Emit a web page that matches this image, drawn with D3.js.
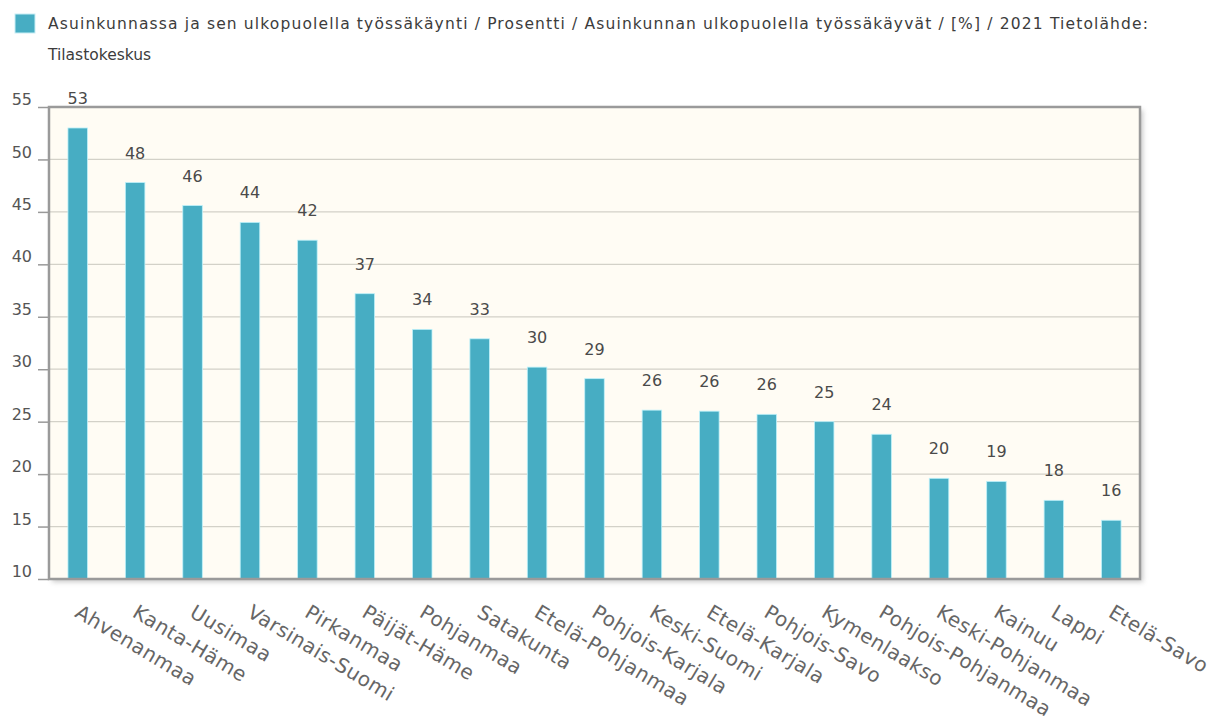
<!DOCTYPE html>
<html>
<head>
<meta charset="utf-8">
<script src="https://cdn.jsdelivr.net/npm/d3@7"></script>
<style>
  body { margin:0; background:#fff; }
  svg text { font-family:'DejaVu Sans', sans-serif; }
</style>
</head>
<body>
<div id="chart"></div>
<script>
// maakunnat ja arvot (%)
var maakunnat = ["Ahvenanmaa","Kanta-Häme","Uusimaa","Varsinais-Suomi","Pirkanmaa","Päijät-Häme",
  "Pohjanmaa","Satakunta","Etelä-Pohjanmaa","Pohjois-Karjala","Keski-Suomi","Etelä-Karjala",
  "Pohjois-Savo","Kymenlaakso","Pohjois-Pohjanmaa","Keski-Pohjanmaa","Kainuu","Lappi","Etelä-Savo"];
var arvot = [53.0,47.8,45.6,44.0,42.3,37.2,33.8,32.9,30.2,29.1,26.1,26.0,25.7,25.0,23.8,19.6,19.3,17.5,15.6];
var yTicks = [10,15,20,25,30,35,40,45,50,55];
var otsikko = ["Asuinkunnassa ja sen ulkopuolella työssäkäynti / Prosentti / Asuinkunnan ulkopuolella työssäkäyvät / [%] / 2021 Tietolähde:",
  "Tilastokeskus"];

var W = 1230, H = 721;
var m = {left:49, top:107, right:1140, bottom:579};
var barColor = "#47adc3";

var svg = d3.select("#chart").append("svg")
  .attr("width",W).attr("height",H);

var defs = svg.append("defs");
defs.append("filter").attr("id","varjo")
  .attr("x","-5%").attr("y","-5%").attr("width","110%").attr("height","115%")
  .append("feDropShadow")
    .attr("dx",3).attr("dy",3).attr("stdDeviation",2.5)
    .attr("flood-color","#888").attr("flood-opacity",0.45);

// legenda
svg.append("rect")
  .attr("x",15).attr("y",14).attr("width",20).attr("height",19)
  .attr("fill",barColor).attr("stroke","#c8eef5").attr("stroke-width",1);

svg.selectAll("text.otsikko").data(otsikko).enter()
  .append("text").attr("class","otsikko")
  .attr("x",48)
  .attr("y",function(d,i) { return 29 + i*31; })
  .attr("font-size",15.5)
  .attr("fill","#3c3c3c")
  .attr("textLength",function(d,i) { return i == 0 ? 1100 : null; })
  .attr("lengthAdjust","spacing")
  .text(function(d) { return d; });

var x = d3.scaleBand().domain(maakunnat).range([m.left,m.right]).paddingInner(0.66).paddingOuter(0.33);
var y = d3.scaleLinear().domain([10,55]).range([m.bottom,m.top]);

// tausta
svg.append("rect")
  .attr("x",m.left).attr("y",m.top)
  .attr("width",m.right-m.left).attr("height",m.bottom-m.top)
  .attr("fill","#fffcf4")
  .attr("filter","url(#varjo)");

// ruudukko
svg.append("g").selectAll("line").data(yTicks).enter()
  .append("line")
  .attr("x1",m.left).attr("x2",m.right)
  .attr("y1",function(d) { return y(d); }).attr("y2",function(d) { return y(d); })
  .attr("stroke","#d3d1c8").attr("stroke-width",1.2);

// y-akseli
var yAxis = d3.axisLeft(y).tickValues(yTicks).tickSize(11).tickPadding(6);
var gy = svg.append("g").attr("transform","translate(" + m.left + ",0)").call(yAxis);
gy.select(".domain").remove();
gy.selectAll(".tick line").attr("stroke","#999").attr("stroke-width",1.5);
gy.selectAll(".tick text")
  .attr("font-size",16).attr("fill","#555")
  .attr("dy","-0.15em")
  .style("font-family","'DejaVu Sans', sans-serif");

// pylväät
svg.append("g").selectAll("rect").data(arvot).enter()
  .append("rect")
  .attr("x",function(d,i) { return x(maakunnat[i]); })
  .attr("y",function(d) { return y(d); })
  .attr("width",x.bandwidth())
  .attr("height",function(d) { return y(10) - y(d); })
  .attr("fill",barColor)
  .attr("stroke","#bdf1fa").attr("stroke-width",0.8);

// arvot
svg.append("g").selectAll("text").data(arvot).enter()
  .append("text")
  .attr("x",function(d,i) { return x(maakunnat[i]) + x.bandwidth()/2; })
  .attr("y",function(d) { return y(d) - 24; })
  .attr("text-anchor","middle")
  .attr("font-size",16)
  .attr("fill","#4a4a4a")
  .text(function(d) { return Math.round(d); });

// kehys
svg.append("rect")
  .attr("x",m.left).attr("y",m.top)
  .attr("width",m.right-m.left).attr("height",m.bottom-m.top)
  .attr("fill","none")
  .attr("stroke","#9a9a9a").attr("stroke-width",2.5);

// x-akselin nimet
svg.append("g").selectAll("text").data(maakunnat).enter()
  .append("text")
  .attr("transform",function(d) {
    return "translate(" + (x(d) + x.bandwidth()/2 - 4) + "," + (m.bottom + 37) + ") rotate(31)";
  })
  .attr("text-anchor","start")
  .attr("font-size",20)
  .attr("letter-spacing",0.5)
  .attr("fill","#666")
  .text(function(d) { return d; });
</script>
</body>
</html>
